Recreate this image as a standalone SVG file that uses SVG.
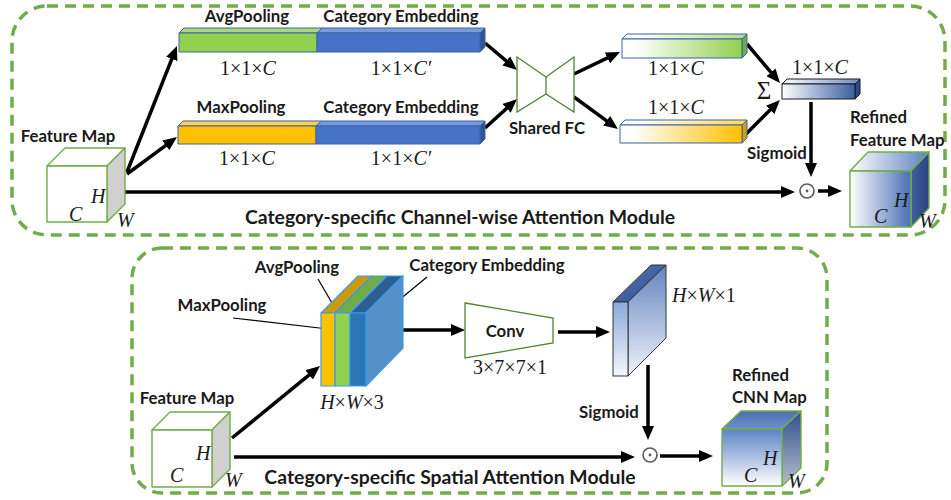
<svg xmlns="http://www.w3.org/2000/svg" width="951" height="500" viewBox="0 0 951 500">
<defs>
<style>
.box{fill:none;stroke:#70AD47;stroke-width:3.5;stroke-dasharray:11 7}
.lbl{font-family:Lato,"Liberation Sans",sans-serif;font-weight:bold;font-size:16.8px;fill:#1a1a1a}
.ttl{font-family:Lato,"Liberation Sans",sans-serif;font-weight:bold;font-size:19.4px;fill:#1a1a1a}
.math{font-family:"Liberation Serif","DejaVu Serif",serif;font-size:20px;fill:#1a1a1a}
.it{font-style:italic}
.arr{stroke:#000;stroke-width:3.5;fill:none;marker-end:url(#ah)}
.ln{stroke:#000;stroke-width:1.2;fill:none}
.cube{stroke:#70AD47;stroke-width:1.4;stroke-linejoin:round}
.bar{stroke:#3A62A7;stroke-width:1;stroke-linejoin:round}
.stk{stroke:#3D9BE9;stroke-width:1.2;stroke-linejoin:round}
</style>
<marker id="ah" markerUnits="userSpaceOnUse" markerWidth="14" markerHeight="12" refX="6" refY="6" orient="auto">
<path d="M0,0 L14,6 L0,12 z" fill="#000"/>
</marker>
<linearGradient id="gG" x1="0" y1="0" x2="1" y2="0"><stop offset="0.1" stop-color="#fff"/><stop offset="1" stop-color="#92D050"/></linearGradient>
<linearGradient id="gGt" x1="0" y1="0" x2="1" y2="0"><stop offset="0.1" stop-color="#fff"/><stop offset="1" stop-color="#B3DC85"/></linearGradient>
<linearGradient id="gO" x1="0" y1="0" x2="1" y2="0"><stop offset="0.1" stop-color="#fff"/><stop offset="1" stop-color="#FFC000"/></linearGradient>
<linearGradient id="gOt" x1="0" y1="0" x2="1" y2="0"><stop offset="0.1" stop-color="#fff"/><stop offset="1" stop-color="#FFD659"/></linearGradient>
<linearGradient id="gB" x1="0" y1="0" x2="1" y2="0"><stop offset="0" stop-color="#fff"/><stop offset="1" stop-color="#3A5FA3"/></linearGradient>
<linearGradient id="gBt" x1="0" y1="0" x2="1" y2="0"><stop offset="0" stop-color="#fff"/><stop offset="1" stop-color="#6D8CC8"/></linearGradient>
<linearGradient id="gRf" x1="0" y1="0" x2="1" y2="0"><stop offset="0" stop-color="#fff"/><stop offset="1" stop-color="#4A6FB3"/></linearGradient>
<linearGradient id="gRt" x1="0" y1="0" x2="1" y2="0"><stop offset="0" stop-color="#fff"/><stop offset="1" stop-color="#5E80C0"/></linearGradient>
<linearGradient id="gRs" x1="0" y1="0" x2="1" y2="0"><stop offset="0" stop-color="#3E5FA0"/><stop offset="1" stop-color="#2A4580"/></linearGradient>
<linearGradient id="gCf" x1="0" y1="0" x2="0" y2="1"><stop offset="0" stop-color="#5A84C6"/><stop offset="1" stop-color="#fff"/></linearGradient>
<linearGradient id="gCt" x1="0" y1="0" x2="0" y2="1"><stop offset="0" stop-color="#4F70AF"/><stop offset="1" stop-color="#6E90CC"/></linearGradient>
<linearGradient id="gCs" x1="0" y1="0" x2="0" y2="1"><stop offset="0" stop-color="#2F4F8E"/><stop offset="1" stop-color="#B8BFCB"/></linearGradient>
<linearGradient id="gSf" x1="0" y1="0" x2="0" y2="1"><stop offset="0" stop-color="#8AA8DA"/><stop offset="1" stop-color="#F4F7FC"/></linearGradient>
<linearGradient id="gSt" x1="0" y1="0" x2="1" y2="1"><stop offset="0" stop-color="#5A7DBE"/><stop offset="1" stop-color="#2A4A88"/></linearGradient>
<linearGradient id="gSs" x1="0" y1="0" x2="0" y2="1"><stop offset="0" stop-color="#6584C0"/><stop offset="1" stop-color="#EEF2FA"/></linearGradient>
</defs>
<rect width="951" height="500" fill="#fff"/>

<g id="module-top">
<rect class="box" x="12" y="6" width="933" height="229" rx="35"/>
<text class="ttl" x="460" y="224" text-anchor="middle">Category-specific Channel-wise Attention Module</text>
</g>
<g id="module-bottom">
<rect class="box" x="132" y="248" width="695" height="245" rx="30"/>
<text class="ttl" x="450" y="484" text-anchor="middle">Category-specific Spatial Attention Module</text>
</g>

<g id="connectors">
<line class="arr" x1="127" y1="172" x2="174" y2="53.4"/>
<line class="arr" x1="127" y1="174" x2="170.6" y2="141.8"/>
<line class="arr" x1="113" y1="192" x2="787" y2="192"/>
<line class="arr" x1="485" y1="43" x2="510.9" y2="64.8"/>
<line class="arr" x1="485" y1="128" x2="511.1" y2="104.4"/>
<line class="arr" x1="574" y1="74" x2="612.8" y2="55.4"/>
<line class="arr" x1="574" y1="97" x2="611.5" y2="124.3"/>
<line class="arr" x1="747" y1="44" x2="774.8" y2="76.9"/>
<line class="arr" x1="745" y1="135" x2="774.3" y2="105.7"/>
<line class="arr" x1="811" y1="102" x2="811" y2="169"/>
<line class="arr" x1="818" y1="191" x2="834" y2="191"/>
<line class="arr" x1="232" y1="438" x2="313.8" y2="371.1"/>
<line class="arr" x1="234" y1="457" x2="627" y2="457"/>
<line class="arr" x1="388" y1="330" x2="457" y2="330"/>
<line class="arr" x1="558" y1="332" x2="602" y2="332"/>
<line class="arr" x1="648" y1="365" x2="648" y2="432"/>
<line class="arr" x1="660" y1="456" x2="705" y2="456"/>
<line class="ln" x1="233" y1="318" x2="328" y2="329"/>
<line class="ln" x1="318" y1="279" x2="346" y2="327"/>
<line class="ln" x1="427" y1="277" x2="387" y2="310"/>
</g>

<g id="feature-map-top">
<text class="lbl" x="68" y="142" text-anchor="middle">Feature Map</text>
<polygon class="cube" points="47,166 107,166 125,148 65,148" fill="#fff"/>
<polygon class="cube" points="107,166 125,148 125,204 107,222" fill="#D0D0D0"/>
<rect class="cube" x="47" y="166" width="60" height="56" fill="#fff"/>
<text class="math it" x="91" y="203">H</text>
<text class="math it" x="69" y="221">C</text>
<text class="math it" x="117" y="227">W</text>
</g>

<g id="avg-bar">
<text class="lbl" x="247" y="22" text-anchor="middle">AvgPooling</text>
<text class="lbl" x="401" y="22" text-anchor="middle">Category Embedding</text>
<polygon class="bar" points="179,33 317,33 322,28 184,28" fill="#A9D97A"/>
<polygon class="bar" points="317,33 480,33 485,28 322,28" fill="#7A9BDB"/>
<polygon class="bar" points="480,33 485,28 485,47 480,52" fill="#2F5597"/>
<rect class="bar" x="179" y="33" width="138" height="19" fill="#92D050"/>
<rect class="bar" x="317" y="33" width="163" height="19" fill="#4472C4"/>
<text class="math" x="248" y="75" text-anchor="middle">1×1×<tspan class="it">C</tspan></text>
<text class="math" x="401" y="75" text-anchor="middle">1×1×<tspan class="it">C′</tspan></text>
</g>

<g id="max-bar">
<text class="lbl" x="241" y="113" text-anchor="middle">MaxPooling</text>
<text class="lbl" x="401" y="113" text-anchor="middle">Category Embedding</text>
<polygon class="bar" points="178,126 316,126 321,121 183,121" fill="#FFD34F"/>
<polygon class="bar" points="316,126 480,126 485,121 321,121" fill="#7A9BDB"/>
<polygon class="bar" points="480,126 485,121 485,139 480,144" fill="#2F5597"/>
<rect class="bar" x="178" y="126" width="138" height="18" fill="#FFC000"/>
<rect class="bar" x="316" y="126" width="164" height="18" fill="#4472C4"/>
<text class="math" x="247" y="165" text-anchor="middle">1×1×<tspan class="it">C</tspan></text>
<text class="math" x="401" y="165" text-anchor="middle">1×1×<tspan class="it">C′</tspan></text>
</g>

<g id="shared-fc">
<polygon points="517,57 546,77 574,57 574,112 546,94 517,112" fill="#fff" stroke="#548235" stroke-width="1.3"/>
<line x1="546" y1="77" x2="546" y2="94" stroke="#548235" stroke-width="1.3"/>
<text class="lbl" x="547" y="134" text-anchor="middle">Shared FC</text>
</g>

<g id="avg-out">
<polygon class="bar" points="622,39 742,39 747,34 627,34" fill="url(#gGt)"/>
<polygon class="bar" points="742,39 747,34 747,53 742,58" fill="#70AD47"/>
<rect class="bar" x="622" y="39" width="120" height="19" fill="url(#gG)"/>
<text class="math" x="676" y="75" text-anchor="middle">1×1×<tspan class="it">C</tspan></text>
</g>

<g id="max-out">
<text class="math" x="676" y="114" text-anchor="middle">1×1×<tspan class="it">C</tspan></text>
<polygon class="bar" points="620,125 742,125 747,120 625,120" fill="url(#gOt)"/>
<polygon class="bar" points="742,125 747,120 747,138 742,143" fill="#D4A000"/>
<rect class="bar" x="620" y="125" width="122" height="18" fill="url(#gO)"/>
</g>

<g id="sum">
<text class="math" x="820" y="74" text-anchor="middle">1×1×<tspan class="it">C</tspan></text>
<text class="math" x="764" y="99" text-anchor="middle" style="font-size:25px">Σ</text>
<polygon points="782,84 855,84 860,79 787,79" fill="url(#gBt)" stroke="#1a1a1a" stroke-width="1"/>
<polygon points="855,84 860,79 860,94 855,99" fill="#2F4A86" stroke="#1a1a1a" stroke-width="1"/>
<rect x="782" y="84" width="73" height="15" fill="url(#gB)" stroke="#1a1a1a" stroke-width="1"/>
<text class="lbl" x="777" y="159" text-anchor="middle">Sigmoid</text>
</g>

<g id="odot-top">
<circle cx="807" cy="191" r="7" fill="#fff" stroke="#595959" stroke-width="1.6"/>
<circle cx="807" cy="191" r="1.4" fill="#595959"/>
</g>

<g id="refined-top">
<text class="lbl" x="850" y="123">Refined</text>
<text class="lbl" x="850" y="146">Feature Map</text>
<polygon class="cube" points="850,171 911,171 929,152 868,152" fill="url(#gRt)"/>
<polygon class="cube" points="911,171 929,152 929,208 911,227" fill="url(#gRs)"/>
<rect class="cube" x="850" y="171" width="61" height="56" fill="url(#gRf)"/>
<text class="math it" x="894" y="207">H</text>
<text class="math it" x="874" y="223">C</text>
<text class="math it" x="919" y="228">W</text>
</g>

<g id="feature-map-bottom">
<text class="lbl" x="187" y="404" text-anchor="middle">Feature Map</text>
<polygon class="cube" points="152,430 212,430 230,412 170,412" fill="#fff"/>
<polygon class="cube" points="212,430 230,412 230,469 212,487" fill="#D0D0D0"/>
<rect class="cube" x="152" y="430" width="60" height="57" fill="#fff"/>
<text class="math it" x="196" y="460">H</text>
<text class="math it" x="170" y="482">C</text>
<text class="math it" x="225" y="487">W</text>
</g>

<g id="stack">
<text class="lbl" x="297" y="273" text-anchor="middle">AvgPooling</text>
<text class="lbl" x="222" y="311" text-anchor="middle">MaxPooling</text>
<text class="lbl" x="487" y="271" text-anchor="middle">Category Embedding</text>
<polygon class="stk" points="321,313 335,313 372,276 358,276" fill="#C99A0A"/>
<polygon class="stk" points="335,313 350,313 387,276 372,276" fill="#70AD47"/>
<polygon class="stk" points="350,313 366,313 403,276 387,276" fill="#2E5F94"/>
<polygon class="stk" points="366,313 403,276 403,348 366,386" fill="#5690C8"/>
<rect class="stk" x="321" y="313" width="14" height="73" fill="#FFC000"/>
<rect class="stk" x="335" y="313" width="15" height="73" fill="#92D050"/>
<rect class="stk" x="350" y="313" width="16" height="73" fill="#2E75B6"/>
<text class="math" x="352" y="409" text-anchor="middle"><tspan class="it">H</tspan>×<tspan class="it">W</tspan>×3</text>
</g>

<g id="conv">
<polygon points="465,303 553,318 553,343 465,358" fill="#fff" stroke="#548235" stroke-width="1.3"/>
<text class="lbl" x="505" y="337" text-anchor="middle">Conv</text>
<text class="math" x="510" y="374" text-anchor="middle">3×7×7×1</text>
</g>

<g id="spatial-map">
<polygon points="613,302 628,302 666,265 651,265" fill="url(#gSt)" stroke="#333" stroke-width="1"/>
<polygon points="628,302 666,265 666,338 628,376" fill="url(#gSs)" stroke="#333" stroke-width="1"/>
<rect x="613" y="302" width="15" height="74" fill="url(#gSf)" stroke="#333" stroke-width="1"/>
<text class="math" x="672" y="302"><tspan class="it">H</tspan>×<tspan class="it">W</tspan>×1</text>
<text class="lbl" x="609" y="418" text-anchor="middle">Sigmoid</text>
</g>

<g id="odot-bottom">
<circle cx="650" cy="455" r="7" fill="#fff" stroke="#595959" stroke-width="1.6"/>
<circle cx="650" cy="455" r="1.4" fill="#595959"/>
</g>

<g id="refined-cnn">
<text class="lbl" x="732" y="381">Refined</text>
<text class="lbl" x="732" y="403">CNN Map</text>
<polygon class="cube" points="722,429 782,429 801,411 741,411" fill="url(#gCt)"/>
<polygon class="cube" points="782,429 801,411 801,468 782,486" fill="url(#gCs)"/>
<rect class="cube" x="722" y="429" width="60" height="57" fill="url(#gCf)"/>
<text class="math it" x="763" y="465">H</text>
<text class="math it" x="744" y="482">C</text>
<text class="math it" x="788" y="488">W</text>
</g>
</svg>
